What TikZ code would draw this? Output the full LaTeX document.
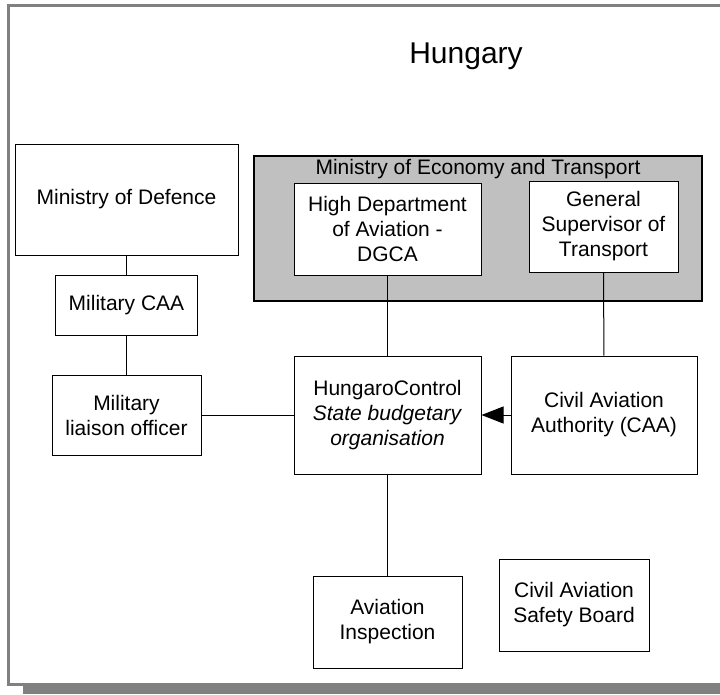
\documentclass[tikz,border=0pt]{standalone}
\usepackage{fontspec}
\setmainfont{Liberation Sans}
\usepackage{tikz}
\usetikzlibrary{arrows.meta, positioning}
\definecolor{framegray}{HTML}{808080}
\definecolor{boxgray}{HTML}{C0C0C0}

\begin{document}
\begin{tikzpicture}[
  x=1pt, y=-1pt,
  unit/.style={draw, line width=1pt, fill=white, align=center, inner sep=2pt,
    font=\fontsize{21}{25}\selectfont},
  ministry/.style={draw, line width=1.5pt, fill=boxgray},
  link/.style={line width=1pt},
  arr/.style={line width=1pt, -{Triangle[length=22pt, width=17pt]}}
]
  \useasboundingbox (0,0) rectangle (720,694);

  % outer frame with shadow
  \fill[framegray] (23,686) rectangle (720,694);
  \draw[framegray, line width=3pt] (725,5.5) -- (8.5,5.5) -- (8.5,684.5) -- (725,684.5);

  \node[font=\fontsize{30}{36}\selectfont] (title) at (466,56) {Hungary};

  % ministry of economy
  \node[ministry, minimum width=448pt, minimum height=145pt] (met) at (478,228.5) {};
  \node[anchor=base, font=\fontsize{21}{25}\selectfont] (metlabel) at (478,174) {Ministry of Economy and Transport};
  \node[unit, minimum width=187pt, minimum height=92pt] (dgca) at (387.5,229) {High Department\\of Aviation -\\DGCA};
  \node[unit, minimum width=149pt, minimum height=91pt] (gst) at (603.5,226.5) {General\\Supervisor of\\Transport};

  % military side
  \node[unit, minimum width=223pt, minimum height=111pt] (mod) at (126.5,199.5) {Ministry of Defence};
  \node[unit, minimum width=142pt, minimum height=60pt] (mcaa) at (126.5,305) {Military CAA};
  \node[unit, minimum width=149pt, minimum height=80pt] (liaison) at (126.5,415) {Military\\liaison officer};

  % civil side
  \node[unit, minimum width=187pt, minimum height=118pt] (hc) at (387.5,415) {HungaroControl\\\textit{State budgetary}\\\textit{organisation}};
  \node[unit, minimum width=186pt, minimum height=118pt] (caa) at (604,415) {Civil Aviation\\Authority (CAA)};
  \node[unit, minimum width=149pt, minimum height=92pt] (ai) at (387.5,622) {Aviation\\Inspection};
  \node[unit, minimum width=150pt, minimum height=92pt] (casb) at (574,605) {Civil Aviation\\Safety Board};

  \draw[link] (mod) -- (mcaa);
  \draw[link] (mcaa) -- (liaison);
  \draw[link] (liaison) -- (hc);
  \draw[link] (dgca) -- (hc);
  \draw[link] (gst) -- (caa);
  \draw[link] (hc) -- (ai);
  \draw[arr] (caa) -- (hc);
\end{tikzpicture}
\end{document}
